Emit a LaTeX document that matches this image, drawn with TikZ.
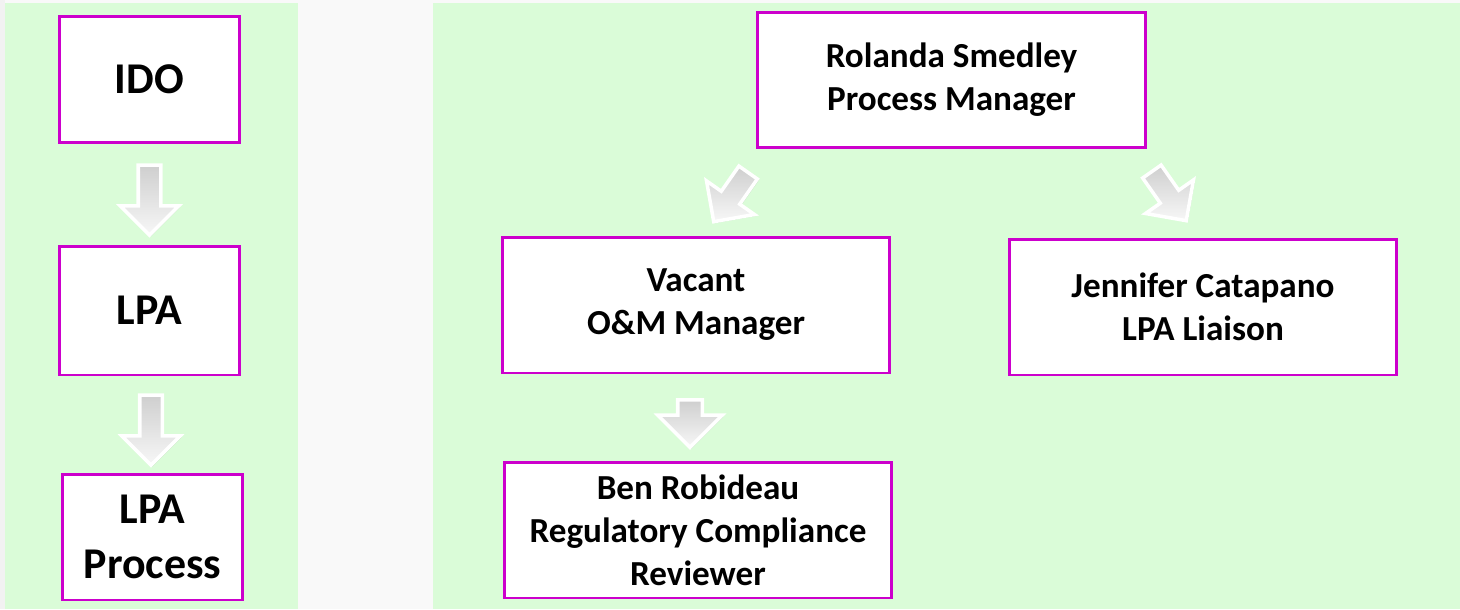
\documentclass[tikz,border=0pt]{standalone}
\usepackage{fontspec}
\setmainfont{Carlito}
\usetikzlibrary{positioning,calc,shapes.arrows,shadows}
\definecolor{panelgreen}{RGB}{218,252,216}
\definecolor{boxmagenta}{RGB}{204,0,204}
\tikzset{
  panel/.style={fill=panelgreen, draw=none},
  box/.style={rectangle, draw=boxmagenta, line width=1.7pt, fill=white, align=center},
  lbox/.style={box, minimum width=3.62cm, minimum height=2.54cm, font=\bfseries\fontsize{25}{31}\selectfont},
  rbox/.style={box, minimum width=7.75cm, minimum height=2.72cm, font=\bfseries\fontsize{20}{24.5}\selectfont},
  flow/.style={single arrow, draw=white, line width=2pt, inner xsep=0pt, inner ysep=0.19cm,
    top color=gray!38, bottom color=gray!6, single arrow head extend=0.36cm,
    minimum height=1.4cm, rotate=-90,
    drop shadow={shadow xshift=0.8pt, shadow yshift=-0.8pt, opacity=0.25, fill=gray}}
}

\begin{document}
\begin{tikzpicture}[x=0.02cm, y=-0.02cm]
    % Page background and the two green panels
    \useasboundingbox (0, 0) rectangle (1460, 609);
    \fill[gray!5] (0, 0) rectangle (1460, 609);
    \fill[gray!10] (0, 0) rectangle (5, 609);
    \fill[panel] (5, 3) rectangle (298, 609);
    \fill[panel] (433, 3) rectangle (1460, 609);

    % Left column
    \node[lbox] (ido) at (149.5, 79.5) {IDO};
    \node[lbox, minimum height=2.58cm] (lpa) at (149.5, 310.5) {LPA};
    \node[lbox, minimum height=2.52cm] (lpaproc) at (152.5, 537) {LPA\\Process};

    % Organisation chart
    \node[rbox] (rolanda) at (951.5, 80) {Rolanda Smedley\\Process Manager};
    \node[rbox] (vacant) at (696, 305) {Vacant\\O\&M Manager};
    \node[rbox] (jennifer) at (1203, 307) {Jennifer Catapano\\LPA Liaison};
    \node[rbox] (ben) at (698, 530) {Ben Robideau\\Regulatory Compliance\\Reviewer};

    % Block arrows between the boxes
    \node[flow] (a1) at ($(ido.south)!0.5!(lpa.north)$) {};
    \node[flow] (a2) at ($(lpa.south)!0.5!(lpaproc.north)$) {};
    \node[flow, rotate=-35, minimum height=1.2cm] (a3) at ($(rolanda.south west)!0.5!(vacant.north) + (8, 0)$) {};
    \node[flow, rotate=35, minimum height=1.2cm] (a4) at ($(rolanda.south east)!0.5!(jennifer.north) + (-9, -2)$) {};
    \node[flow, minimum height=0.95cm, inner ysep=0.21cm,
      single arrow head extend=0.4cm] (a5) at ($(vacant.south)!0.5!(ben.north) + (-7, 0)$) {};
\end{tikzpicture}
\end{document}
